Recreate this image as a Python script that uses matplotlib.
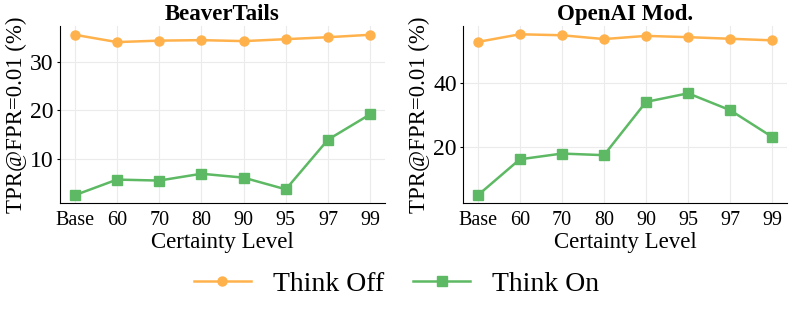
import matplotlib
matplotlib.use('Agg')

import matplotlib.pyplot as plt
import numpy as np

levels = ["Base", "60", "70", "80", "90", "95", "97", "99"]

beaver_off = [35.5, 34.0, 34.3, 34.4, 34.2, 34.6, 35.0, 35.5]
beaver_on = [2.6, 5.8, 5.6, 7.0, 6.2, 3.8, 14.0, 19.2]

openai_off = [53.0, 55.4, 55.1, 53.9, 54.9, 54.5, 54.0, 53.5]
openai_on = [4.9, 16.2, 18.0, 17.5, 34.2, 36.9, 31.6, 23.2]

titles = ["BeaverTails", "OpenAI Mod."]

plt.rcParams['font.family'] = ['Liberation Serif', 'DejaVu Serif']

ORANGE = '#FFB24C'
GREEN = '#5DB963'

fig = plt.figure(figsize=(7.93, 3.14), dpi=100)
ax1 = fig.add_axes([60 / 793, 1 - 203 / 314, 325 / 793, 177 / 314])
ax2 = fig.add_axes([463 / 793, 1 - 203 / 314, 324 / 793, 177 / 314])

x = np.arange(len(levels))
panels = [(ax1, beaver_off, beaver_on, (1.0, 37.3), [10, 20, 30]),
          (ax2, openai_off, openai_on, (2.5, 58.0), [20, 40])]

for i, (ax, off, on, ylim, yt) in enumerate(panels):
    l1, = ax.plot(x, off, color=ORANGE, marker='o', markersize=6.5, linewidth=1.8,
                  label='Think Off')
    l2, = ax.plot(x, on, color=GREEN, marker='s', markersize=6.5, linewidth=1.8,
                  label='Think On')
    ax.set_xticks(x)
    ax.set_xticklabels(levels, fontsize=14.5)
    ax.set_yticks(yt)
    ax.tick_params(axis='y', labelsize=17, length=2.5, pad=2)
    ax.tick_params(axis='x', length=0, pad=6)
    ax.set_ylim(*ylim)
    ax.set_xlim(-0.35, 7.35)
    ax.grid(True, color='#ebebeb', linewidth=0.8)
    ax.set_axisbelow(True)
    for s in ['top', 'right']:
        ax.spines[s].set_visible(False)
    ax.set_title(titles[i], fontsize=16.5, fontweight='bold', pad=4)
    ax.set_xlabel('Certainty Level', fontsize=16.5, labelpad=1)
    ax.set_ylabel('TPR@FPR=0.01 (%)', fontsize=16.5, labelpad=2)

fig.legend(handles=[l1, l2], loc='center', bbox_to_anchor=(0.5, 1 - 284 / 314),
           ncol=2, frameon=False, fontsize=20, handlelength=2.05,
           handletextpad=0.8, columnspacing=1.05)

fig.savefig('out.png', dpi=100)
